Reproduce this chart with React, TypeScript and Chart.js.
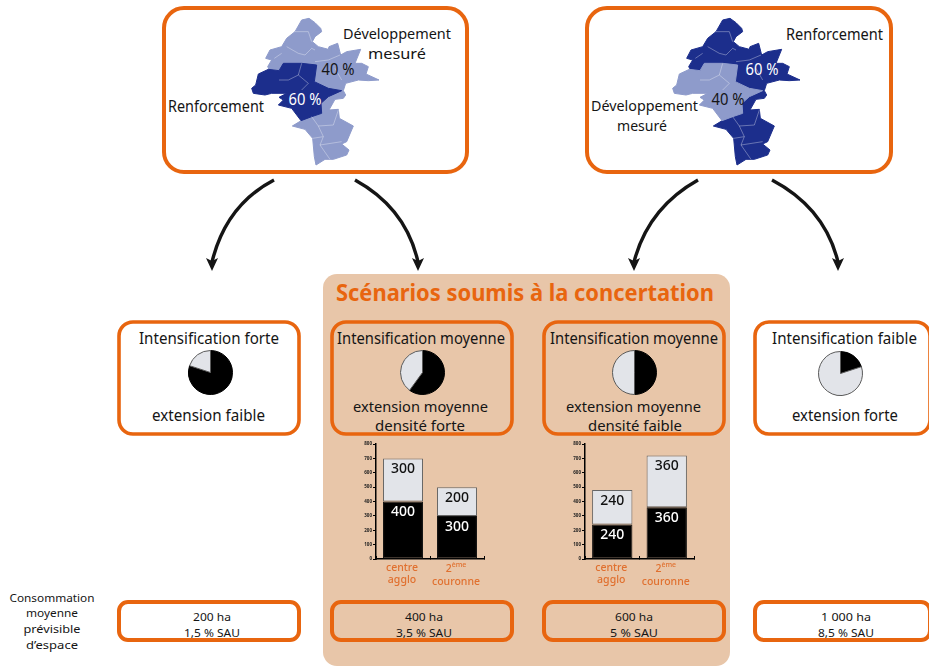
import React, { useEffect, useRef } from "react";
import Chart from "chart.js/auto";

const FONT = '"Noto Sans", "Open Sans", sans-serif';
const ORANGE = "#e8650f";
const TAN = "#e8c6a9";
const DARK = "#1c2e8c";
const LIGHT = "#8e9bcb";
const PALE = "#e2e4e9";

const pieLabels = ["Intensification", "Extension"];
const pieForte = [80, 20];
const pieMoyenneForte = [60, 40];
const pieMoyenneFaible = [50, 50];
const pieFaible = [20, 80];

const barCategories = ["centre agglo", "2ème couronne"];
const densiteForteBlack = [400, 300];
const densiteForteGrey = [300, 200];
const densiteFaibleBlack = [240, 360];
const densiteFaibleGrey = [240, 360];
const yMax = 800;
const yStep = 100;

const OUTLINE = "440,60 462,55 480,68 497,85 500,95 480,110 472,125 490,140 520,148 522,140 548,130 557,165 575,155 617,148 600,190 620,190 640,200 633,222 672,240 640,242 610,240 572,250 565,272 572,285 565,295 540,298 522,330 550,328 553,355 595,378 575,425 560,432 582,450 575,465 535,478 510,478 483,495 478,470 473,415 450,388 412,378 450,355 470,350 490,320 495,290 478,245 460,220 440,200 372,212 345,212 338,200 350,180 332,175 345,150 380,140 395,115 420,95";
const CENTER = "310,222 340,208 372,212 385,190 440,190 485,195 478,245 520,265 560,272 520,290 498,310 500,340 470,350 438,362 410,325 370,315 385,300 372,292 395,280 350,280 330,285 295,280 290,265 302,255";
const INNER = [
  "420,95 460,95 470,125",
  "395,140 430,160 450,165 470,145 480,150",
  "358,175 380,160",
  "480,185 520,180 555,165",
  "540,205 560,240",
  "372,240 400,240 430,225 440,190",
  "430,225 460,250 440,270",
  "470,350 490,378 535,375 550,330",
  "490,378 505,410 473,415",
  "505,410 495,435 560,425",
  "495,435 525,478",
];

function T(p: { x: number; y: number; s?: number; w?: number; c?: string; b?: boolean; children: string }) {
  return (
    <text
      x={p.x}
      y={p.y}
      fontSize={p.s ?? 16}
      fill={p.c ?? "#151515"}
      fontWeight={p.b ? 700 : 400}
      textAnchor="middle"
      dominantBaseline="central"
      textLength={p.w}
      lengthAdjust={p.w ? "spacingAndGlyphs" : undefined}
    >
      {p.children}
    </text>
  );
}

function Box(p: { x1: number; y1: number; x2: number; y2: number; r: number; sw?: number }) {
  return (
    <rect x={p.x1 + 2} y={p.y1 + 2} width={p.x2 - p.x1 - 4} height={p.y2 - p.y1 - 4} rx={p.r} fill="none" stroke={ORANGE} strokeWidth={p.sw ?? 3.6} />
  );
}

function MapShape(p: { dx: number; outer: string; inner: string }) {
  return (
    <g transform={`translate(${p.dx},0) scale(${1 / 3})`} strokeLinejoin="round">
      <polygon points={OUTLINE} fill={p.outer} stroke={p.outer} strokeWidth={3} />
      <polygon points={CENTER} fill={p.inner} stroke={p.inner} strokeWidth={3} />
      {INNER.map((l) => (
        <polyline key={l} points={l} fill="none" stroke="#ffffff" strokeOpacity={0.5} strokeWidth={2} />
      ))}
    </g>
  );
}

function Arrow(p: { x1: number; y1: number; cx: number; cy: number; x2: number }) {
  const tip = 271;
  return (
    <g>
      <path d={`M${p.x1} ${p.y1} Q${p.cx} ${p.cy} ${p.x2} ${tip - 9}`} fill="none" stroke="#151515" strokeWidth={3.4} />
      <polygon points={`${p.x2},${tip} ${p.x2 - 6},${tip - 13} ${p.x2},${tip - 10} ${p.x2 + 6},${tip - 13}`} fill="#151515" />
    </g>
  );
}

function Pie(p: { cx: number; cy: number; values: number[] }) {
  const ref = useRef<HTMLCanvasElement>(null);
  const size = 45;
  useEffect(() => {
    const chart = new Chart(ref.current!, {
      type: "pie",
      data: {
        labels: pieLabels,
        datasets: [{ data: p.values, backgroundColor: ["#000000", PALE], borderColor: ["#000000", "#5a5a5a"], borderWidth: 1 }],
      },
      options: {
        animation: false,
        responsive: false,
        devicePixelRatio: 1,
        layout: { padding: 0 },
        plugins: { legend: { display: false }, tooltip: { enabled: false } },
      },
    });
    return () => chart.destroy();
  }, []);
  return (
    <canvas
      ref={ref}
      width={size}
      height={size}
      style={{ position: "absolute", left: p.cx - 22, top: p.cy - 22, width: size, height: size }}
    />
  );
}

const barText = {
  id: "barText",
  afterDatasetsDraw(chart: any) {
    const ctx = chart.ctx;
    ctx.save();
    ctx.textAlign = "center";
    ctx.textBaseline = "middle";
    chart.data.datasets.forEach((ds: any, di: number) => {
      const meta = chart.getDatasetMeta(di);
      meta.data.forEach((el: any, i: number) => {
        ctx.font = `500 14px ${FONT}`;
        ctx.fillStyle = di === 0 ? "#ffffff" : "#111111";
        ctx.fillText(String(ds.data[i]), el.x, el.y + 11);
      });
    });
    const x = chart.scales.x;
    ctx.fillStyle = "#e0702f";
    const big = `500 10.5px ${FONT}`;
    const small = `500 7px ${FONT}`;
    ctx.font = big;
    barCategories.forEach((label, i) => {
      const cx = x.getPixelForValue(i) - 1;
      const [first, second] = label.split(" ");
      const m = first.match(/^(\d)(ème)$/);
      if (m) {
        const w1 = ctx.measureText(m[1]).width;
        ctx.font = small;
        const w2 = ctx.measureText(m[2]).width;
        const left = cx - (w1 + w2) / 2;
        ctx.textAlign = "left";
        ctx.font = big;
        ctx.fillText(m[1], left, x.top + 10);
        ctx.font = small;
        ctx.fillText(m[2], left + w1, x.top + 6);
        ctx.textAlign = "center";
        ctx.font = big;
        ctx.fillText(second, cx, x.top + 23);
      } else {
        ctx.fillText(first, cx, x.top + 9);
        ctx.fillText(second, cx, x.top + 21);
      }
    });
    ctx.restore();
  },
};

function Bars(p: { left: number; plotW: number; black: number[]; grey: number[] }) {
  const ref = useRef<HTMLCanvasElement>(null);
  const w = 26 + p.plotW + 6;
  const h = 160;
  useEffect(() => {
    const chart = new Chart(ref.current!, {
      type: "bar",
      data: {
        labels: barCategories,
        datasets: [
          { data: p.black, backgroundColor: "#000000", borderColor: "#111111", borderWidth: 1, borderSkipped: false },
          { data: p.grey, backgroundColor: PALE, borderColor: "#666666", borderWidth: 1, borderSkipped: false },
        ],
      },
      options: {
        animation: false,
        responsive: false,
        devicePixelRatio: 1,
        layout: { padding: { top: 9, right: 6, left: 0, bottom: 0 } },
        datasets: { bar: { categoryPercentage: 1, barPercentage: 0.74 } },
        plugins: { legend: { display: false }, tooltip: { enabled: false } },
        scales: {
          x: {
            stacked: true,
            afterFit: (s: any) => { s.height = 36; },
            ticks: { display: false },
            border: { color: "#000000", width: 1.5 },
            grid: { drawOnChartArea: false, drawTicks: true, tickLength: -3, tickColor: "#000000", tickWidth: 1 },
          },
          y: {
            stacked: true,
            min: 0,
            max: yMax,
            afterFit: (s: any) => { s.width = 26; },
            ticks: { stepSize: yStep, color: "#222222", padding: 1, font: { size: 4.5, family: FONT, weight: "bold" } },
            border: { color: "#000000", width: 1.5 },
            grid: { drawOnChartArea: false, drawTicks: true, tickLength: 3, tickColor: "#000000", tickWidth: 1 },
          },
        },
      },
      plugins: [barText],
    });
    return () => chart.destroy();
  }, []);
  return (
    <canvas ref={ref} width={w} height={h} style={{ position: "absolute", left: p.left - 26, top: 435, width: w, height: h }} />
  );
}

export default function App() {
  return (
    <div style={{ position: "absolute", left: 0, top: 0, width: 929, height: 666, overflow: "hidden", background: "#ffffff" }}>
      <svg width={929} height={666} style={{ position: "absolute", left: 0, top: 0, fontFamily: FONT }}>
        <rect x={323} y={274} width={407} height={392} rx={14} fill={TAN} />

        <Box x1={162} y1={6} x2={469} y2={174} r={20} sw={4} />
        <Box x1={585} y1={6} x2={893} y2={174} r={20} sw={4} />
        <MapShape dx={155} outer={LIGHT} inner={DARK} />
        <MapShape dx={576} outer={DARK} inner={LIGHT} />

        <T x={397} y={33} s={14.5} w={108}>Développement</T>
        <T x={397} y={53} s={14.5} w={58}>mesuré</T>
        <T x={338} y={68} s={16.5} w={33}>40 %</T>
        <T x={305} y={98} s={16.5} w={33} c="#ffffff">60 %</T>
        <T x={216} y={106} w={96}>Renforcement</T>

        <T x={834.5} y={34} w={97}>Renforcement</T>
        <T x={762} y={68} s={16.5} w={33} c="#ffffff">60 %</T>
        <T x={728} y={98} s={16.5} w={33}>40 %</T>
        <T x={644.5} y={105.5} s={14} w={107}>Développement</T>
        <T x={642} y={125} s={14} w={50}>mesuré</T>

        <Arrow x1={274} y1={180} cx={226} cy={205} x2={212} />
        <Arrow x1={355} y1={180} cx={406} cy={208} x2={418} />
        <Arrow x1={698} y1={180} cx={648} cy={208} x2={634} />
        <Arrow x1={772} y1={180} cx={825} cy={208} x2={838} />

        <T x={525} y={292} s={23} w={378} c="#e8650f" b>Scénarios soumis à la concertation</T>

        <Box x1={117} y1={320} x2={301} y2={436} r={14} />
        <Box x1={330} y1={320} x2={514} y2={436} r={14} />
        <Box x1={542} y1={320} x2={726} y2={436} r={14} />
        <Box x1={753} y1={320} x2={932} y2={436} r={14} />

        <T x={209} y={338} w={140}>Intensification forte</T>
        <T x={208.5} y={415} w={113}>extension faible</T>
        <T x={421} y={338} w={168}>Intensification moyenne</T>
        <T x={420.5} y={406} s={14} w={135}>extension moyenne</T>
        <T x={420} y={425} s={14} w={90}>densité forte</T>
        <T x={634} y={338} w={168}>Intensification moyenne</T>
        <T x={633.5} y={406} s={14} w={135}>extension moyenne</T>
        <T x={635} y={425} s={14} w={94}>densité faible</T>
        <T x={844.5} y={338} w={145}>Intensification faible</T>
        <T x={845} y={415} w={106}>extension forte</T>

        <Box x1={117} y1={600} x2={301} y2={642} r={9} sw={4} />
        <Box x1={330} y1={600} x2={514} y2={642} r={9} sw={4} />
        <Box x1={542} y1={600} x2={726} y2={642} r={9} sw={4} />
        <Box x1={753} y1={600} x2={932} y2={642} r={9} sw={4} />

        <T x={212} y={616} s={11.5} w={38}>200 ha</T>
        <T x={212} y={632} s={11.5} w={56}>1,5 % SAU</T>
        <T x={424} y={616} s={11.5} w={38}>400 ha</T>
        <T x={424} y={632} s={11.5} w={56}>3,5 % SAU</T>
        <T x={634} y={616} s={11.5} w={38}>600 ha</T>
        <T x={634} y={632} s={11.5} w={48}>5 % SAU</T>
        <T x={846} y={616} s={11.5} w={50}>1 000 ha</T>
        <T x={846} y={632} s={11.5} w={56}>8,5 % SAU</T>

        <T x={52} y={597} s={11.5} w={85}>Consommation</T>
        <T x={52} y={612.7} s={11.5} w={52}>moyenne</T>
        <T x={52} y={628.4} s={11.5} w={57}>prévisible</T>
        <T x={52} y={644.1} s={11.5} w={52}>d’espace</T>
      </svg>

      <Pie cx={210} cy={372} values={pieForte} />
      <Pie cx={422} cy={372} values={pieMoyenneForte} />
      <Pie cx={634} cy={372} values={pieMoyenneFaible} />
      <Pie cx={840} cy={373} values={pieFaible} />

      <Bars left={376} plotW={108} black={densiteForteBlack} grey={densiteForteGrey} />
      <Bars left={585} plotW={109} black={densiteFaibleBlack} grey={densiteFaibleGrey} />
    </div>
  );
}
